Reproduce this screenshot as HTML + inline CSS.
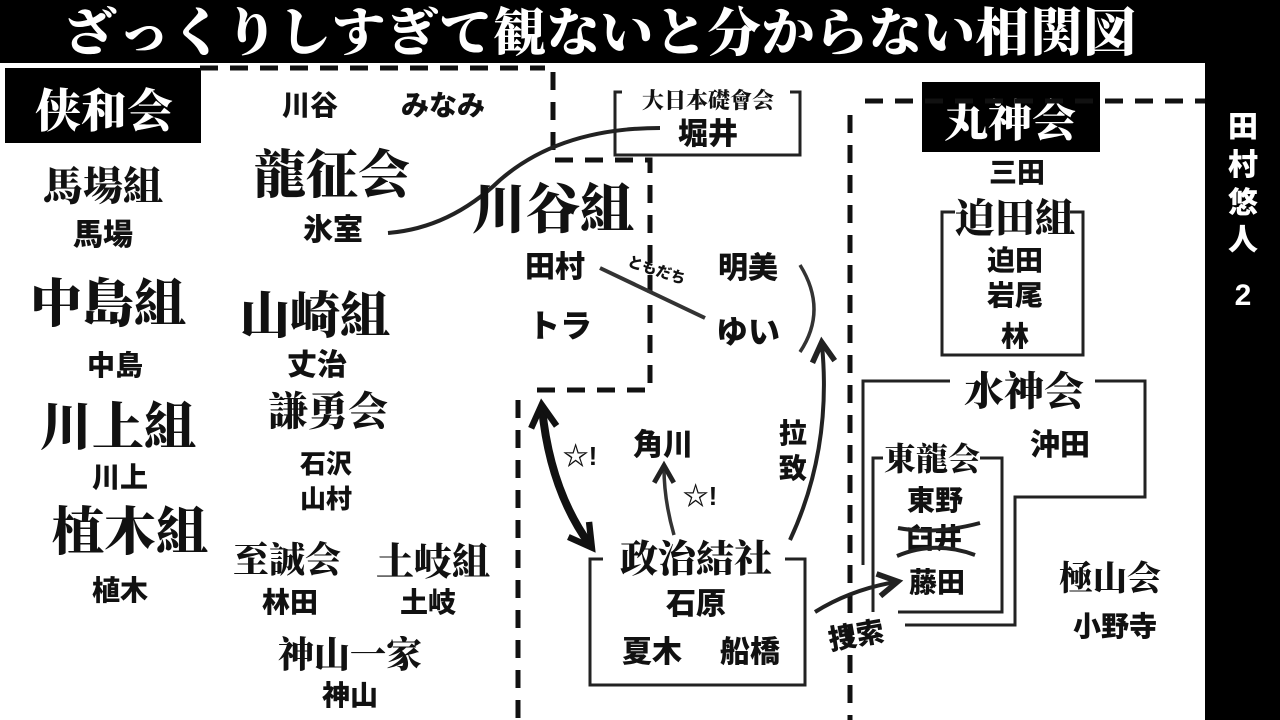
<!DOCTYPE html>
<html><head><meta charset="utf-8"><style>
html,body{margin:0;padding:0;background:#fff}
svg{display:block}
.s{font-family:"Liberation Serif","Noto Serif CJK SC",serif;font-weight:900;text-anchor:middle;fill:#111}
.g{font-family:"Liberation Sans","Noto Sans CJK JP",sans-serif;font-weight:900;text-anchor:middle;fill:#111}
.ln{fill:none;stroke:#222;stroke-width:3}
.d{fill:none;stroke:#111;stroke-width:5;stroke-dasharray:18 12}
</style></head><body>
<svg width="1280" height="720" viewBox="0 0 1280 720" xmlns="http://www.w3.org/2000/svg">
<defs><marker id="ah" viewBox="0 0 10 10" refX="7" refY="5" markerWidth="7" markerHeight="7" orient="auto-start-reverse"><path d="M1,1 L8,5 L1,9" fill="none" stroke="#222" stroke-width="2"/></marker>
<marker id="ah2" viewBox="0 0 10 10" refX="7" refY="5" markerWidth="4" markerHeight="4" orient="auto-start-reverse"><path d="M1,1 L8,5 L1,9" fill="none" stroke="#111" stroke-width="2"/></marker></defs>
<rect x="0" y="0" width="1280" height="63" fill="#000"/>
<rect x="1205" y="0" width="75" height="720" fill="#000"/>
<text x="600" y="51" class="s" font-size="52" style="fill:#fff" textLength="1073" lengthAdjust="spacingAndGlyphs">ざっくりしすぎて観ないと分からない相関図</text>
<rect x="5" y="68" width="196" height="75" fill="#000"/>
<text x="104" y="127" class="s" font-size="46" style="fill:#fff">侠和会</text>
<rect x="922" y="82" width="178" height="70" fill="#000"/>
<text x="1010" y="136" class="s" font-size="44" style="fill:#fff">丸神会</text>
<path class="d" d="M200,68 H545"/>
<path class="d" d="M553,72 V160 H650 V390 H530"/>
<path class="d" d="M518,400 V720"/>
<path class="d" d="M850,115 V720"/>
<path class="d" d="M865,101 H1205"/>
<path class="ln" d="M622,92 H615 V155 H800 V92 H790"/>
<path class="ln" d="M955,212 H942 V355 H1083 V212 H1070"/>
<path class="ln" d="M950,381 H863 V565 M1095,381 H1145 V497 H1015 V625 H905"/>
<path class="ln" d="M883,458 H873 V612 M980,458 H1002 V612 H898"/>
<path class="ln" d="M603,559 H590 V685 H805 V559 H785"/>
<path d="M388,233 Q450,228 500,180 Q560,128 660,128" fill="none" stroke="#222" stroke-width="4"/>
<path d="M600,268 L705,318" fill="none" stroke="#333" stroke-width="4"/>
<path d="M800,265 Q828,310 800,352" fill="none" stroke="#333" stroke-width="3.5"/>
<path d="M790,540 Q832,450 822,345" fill="none" stroke="#222" stroke-width="4" marker-end="url(#ah)"/>
<path d="M542,408 Q550,490 590,545" fill="none" stroke="#111" stroke-width="8" marker-start="url(#ah2)" marker-end="url(#ah2)"/>
<path d="M674,535 Q664,500 664,468" fill="none" stroke="#333" stroke-width="3.5" marker-end="url(#ah)"/>
<path d="M815,612 Q850,590 895,582" fill="none" stroke="#222" stroke-width="4" marker-end="url(#ah)"/>
<text x="580" y="465" class="g" font-size="26">☆!</text>
<text x="700" y="505" class="g" font-size="26">☆!</text>
<text x="310" y="115" class="g" font-size="28">川谷</text>
<text x="443" y="115" class="g" font-size="28">みなみ</text>
<text x="332" y="193" class="s" font-size="52">龍征会</text>
<text x="333" y="240" class="g" font-size="30">氷室</text>
<text x="103" y="200" class="s" font-size="40">馬場組</text>
<text x="103" y="245" class="g" font-size="30">馬場</text>
<text x="108" y="322" class="s" font-size="52">中島組</text>
<text x="115" y="375" class="g" font-size="28">中島</text>
<text x="315" y="333" class="s" font-size="50">山崎組</text>
<text x="317" y="375" class="g" font-size="30">丈治</text>
<text x="328" y="425" class="s" font-size="40">謙勇会</text>
<text x="326" y="473" class="g" font-size="26">石沢</text>
<text x="326" y="508" class="g" font-size="26">山村</text>
<text x="118" y="445" class="s" font-size="52">川上組</text>
<text x="120" y="487" class="g" font-size="28">川上</text>
<text x="130" y="550" class="s" font-size="52">植木組</text>
<text x="120" y="600" class="g" font-size="28">植木</text>
<text x="287" y="572" class="s" font-size="36">至誠会</text>
<text x="290" y="612" class="g" font-size="28">林田</text>
<text x="433" y="575" class="s" font-size="38">土岐組</text>
<text x="428" y="612" class="g" font-size="28">土岐</text>
<text x="350" y="667" class="s" font-size="36">神山一家</text>
<text x="350" y="705" class="g" font-size="28">神山</text>
<text x="553" y="228" class="s" font-size="54">川谷組</text>
<text x="555" y="277" class="g" font-size="30">田村</text>
<text x="560" y="337" class="g" font-size="32">トラ</text>
<text x="708" y="108" class="s" font-size="22">大日本礎會会</text>
<text x="708" y="144" class="g" font-size="30">堀井</text>
<text x="748" y="278" class="g" font-size="30">明美</text>
<text x="748" y="343" class="g" font-size="32">ゆい</text>
<text x="655" y="275" class="g" font-size="15" transform="rotate(18 655 275)">ともだち</text>
<text x="663" y="455" class="g" font-size="30">角川</text>
<text x="793" y="443" class="g" font-size="28">拉</text>
<text x="793" y="478" class="g" font-size="28">致</text>
<text x="696" y="572" class="s" font-size="38">政治結社</text>
<text x="696" y="614" class="g" font-size="30">石原</text>
<text x="652" y="662" class="g" font-size="30">夏木</text>
<text x="750" y="662" class="g" font-size="30">船橋</text>
<text x="858" y="645" class="g" font-size="28" transform="rotate(-10 858 645)">捜索</text>
<text x="1017" y="182" class="g" font-size="28">三田</text>
<text x="1015" y="232" class="s" font-size="40">迫田組</text>
<text x="1015" y="270" class="g" font-size="28">迫田</text>
<text x="1015" y="305" class="g" font-size="28">岩尾</text>
<text x="1015" y="346" class="g" font-size="28">林</text>
<text x="1024" y="405" class="s" font-size="40">水神会</text>
<text x="1060" y="455" class="g" font-size="30">沖田</text>
<text x="932" y="470" class="s" font-size="32">東龍会</text>
<text x="935" y="510" class="g" font-size="28">東野</text>
<text x="934" y="548" class="g" font-size="28">臼井</text>
<path d="M898,528 Q935,535 980,523 M897,556 Q935,540 975,555" fill="none" stroke="#222" stroke-width="4"/>
<text x="937" y="592" class="g" font-size="28">藤田</text>
<text x="1110" y="590" class="s" font-size="34">極山会</text>
<text x="1115" y="636" class="g" font-size="28">小野寺</text>
<text x="1243" y="137" class="g" font-size="30" style="fill:#fff">田</text>
<text x="1243" y="175" class="g" font-size="30" style="fill:#fff">村</text>
<text x="1243" y="213" class="g" font-size="30" style="fill:#fff">悠</text>
<text x="1243" y="250" class="g" font-size="30" style="fill:#fff">人</text>
<text x="1243" y="305" class="g" font-size="30" style="fill:#fff">2</text>
</svg>
</body></html>
